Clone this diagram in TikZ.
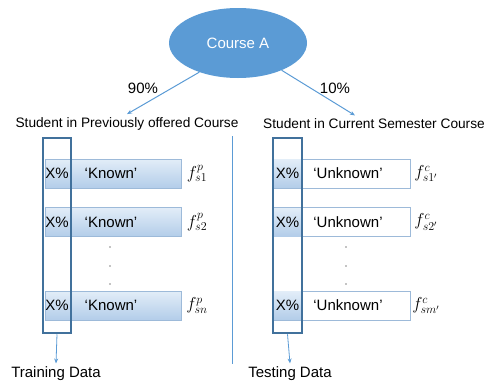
\documentclass[tikz,border=0pt]{standalone}
\usepackage{fontspec}
\setmainfont{Liberation Sans}
\usetikzlibrary{shapes.geometric,arrows.meta}
\definecolor{courseblue}{HTML}{5B9BD5}
\definecolor{framedark}{HTML}{41719C}
\definecolor{barline}{HTML}{9DBAD9}
\definecolor{bartop}{HTML}{E2EDF8}
\definecolor{barbot}{HTML}{B3CDE9}
\tikzset{
  conn/.style={courseblue,line width=1pt,-{Stealth[length=5pt,width=4pt]}},
  knownbar/.style={draw=barline,top color=bartop,bottom color=barbot,minimum width=136pt,minimum height=29pt,inner sep=0pt},
  unknownbar/.style={draw=barline,fill=white,minimum width=137pt,minimum height=29pt,inner sep=0pt},
  xcell/.style={top color=bartop,bottom color=barbot,minimum width=29pt,minimum height=28pt,inner sep=0pt},
  xframe/.style={draw=framedark,line width=2.5pt,minimum height=195pt,inner sep=0pt},
  heading/.style={font=\fontsize{13.7}{16}\selectfont},
  flabel/.style={font=\fontsize{17}{19}\selectfont,inner sep=1pt}
}
\begin{document}
\begin{tikzpicture}[x=1pt,y=-1pt,font=\fontsize{15}{18}\selectfont]
\useasboundingbox (0,0) rectangle (487,383);

% top of the tree
\node[ellipse,fill=courseblue,minimum width=138pt,minimum height=70pt,text=white] (course) at (238,43) {Course A};
\node[heading] (prevhead) at (127,124) {Student in Previously offered Course};
\node[heading] (curhead) at (374,124) {Student in Current Semester Course};
\draw[conn] (course.217) -- (prevhead.north);
\draw[conn] (course.328) -- ([xshift=-19pt]curhead.north);
\node (pctprev) at (143,88) {90\%};
\node (pctcur) at (335,88) {10\%};

% divider
\coordinate (divtop) at (232,136);
\coordinate (divbot) at (232,364);
\draw[courseblue,line width=1pt] (divtop) -- (divbot);

% previously offered course
\node[knownbar] (kbar1) at (113,173.5) {};
\node[knownbar] (kbar2) at (113,222) {};
\node[knownbar] (kbarn) at (113,305.5) {};
\node[xframe,minimum width=28pt] (xcolp) at (57,235.5) {};
\foreach \r/\yy/\sub in {1/173.5/s1,2/222/s2,n/305.5/sn}{
  \node (xp\r) at (57,\yy) {X\%};
  \node (kn\r) at (111,\yy) {‘Known’};
  \node[flabel] (fp\r) at (197,\yy) {$f^{p}_{\sub}$};
}
\foreach \yy in {247,266,284}
  \fill (110,\yy) circle (0.7pt);
\node (trainlbl) at (56,374) {Training Data};
\draw[conn,line width=0.8pt] (xcolp.south) -- (trainlbl.north);

% current semester course
\node[unknownbar] (ubar1) at (341.5,173.5) {};
\node[unknownbar] (ubar2) at (341.5,222) {};
\node[unknownbar] (ubarm) at (341.5,305.5) {};
\foreach \yy in {173.5,222,305.5}
  \node[xcell] at (287.5,\yy) {};
\node[xframe,minimum width=29pt] (xcolc) at (287.5,235.5) {};
\foreach \r/\yy/\sub in {1/173.5/s1',2/222/s2',m/305.5/sm'}{
  \node (xc\r) at (287.5,\yy) {X\%};
  \node (un\r) at (348,\yy) {‘Unknown’};
  \node[flabel] (fc\r) at (426,\yy) {$f^{c}_{\sub}$};
}
\foreach \yy in {247,266,284}
  \fill (346,\yy) circle (0.7pt);
\node (testlbl) at (290,374) {Testing Data};
\draw[conn,line width=0.8pt] (xcolc.south) -- (testlbl.north);
\end{tikzpicture}
\end{document}
